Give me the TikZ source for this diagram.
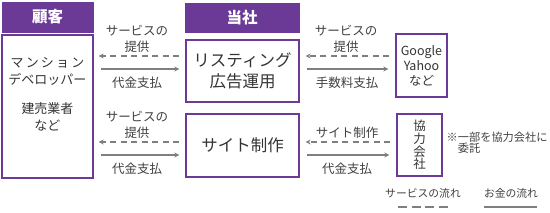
\documentclass[tikz,border=0pt]{standalone}
\usepackage{fontspec}
\setmainfont{Noto Sans CJK JP}
\usetikzlibrary{arrows.meta}
\definecolor{pur}{HTML}{6A3A96}
\definecolor{ln}{HTML}{7F7F7F}
\definecolor{tx}{HTML}{333333}
\definecolor{tl}{HTML}{404040}
\tikzset{
  hdr/.style={draw=pur,fill=pur,text=white,font=\fontsize{15.5}{15.5}\selectfont\bfseries,inner sep=0pt,line width=1pt},
  box/.style={draw=pur,line width=1.3pt,text=tx,inner sep=0pt,align=center},
  lbl/.style={text=tl,inner sep=0pt,align=center,font=\fontsize{12.5}{16}\selectfont},
  svc/.style={draw=ln,line width=1.5pt,dash pattern=on 6pt off 4.5pt,-{Stealth[length=5pt,width=5pt]}},
  pay/.style={draw=ln,line width=1.5pt,-{Stealth[length=5pt,width=5pt]}},
}
\begin{document}
\begin{tikzpicture}[x=1pt,y=-1pt]
\useasboundingbox (0,0) rectangle (550,212);
% headers
\node[hdr,minimum width=91pt,minimum height=30pt] (h1) at (47.5,17) {顧客};
\node[hdr,minimum width=114pt,minimum height=29pt] (h2) at (242,17.5) {当社};
% boxes
\node[box,minimum width=91pt,minimum height=143pt] (c) at (47.5,106.5) {};
\node[text=tx,inner sep=0pt,align=center,font=\fontsize{13}{17}\selectfont] (ct1) at (47.5,71.5) {マ\,ン\,シ\,ョ\,ン\\デベロッパー};
\node[text=tx,inner sep=0pt,align=center,font=\fontsize{13}{16.5}\selectfont] (ct2) at (47.5,117) {建売業者\\など};
\node[box,minimum width=113pt,minimum height=62pt,font=\fontsize{16.5}{20.5}\selectfont] (l) at (242.5,71) {リスティング\\広告運用};
\node[box,minimum width=113pt,minimum height=63pt,font=\fontsize{16.5}{20}\selectfont] (s) at (242.5,145.5) {サイト制作};
\node[box,minimum width=51pt,minimum height=63pt,font=\fontsize{12.5}{15}\selectfont] (g) at (421.5,65.5) {Google\\Yahoo\\など};
\node[box,minimum width=45pt,minimum height=62pt,font=\fontsize{12.5}{12.7}\selectfont] (k) at (419.5,145) {協\\力\\会\\社};
% note
\node[text=tl,inner sep=0pt,align=left,anchor=west,font=\fontsize{11.2}{11}\selectfont] (n) at (446.5,143) {※一部を協力会社に\\\phantom{※}委託};
% left arrows row 1
\draw[svc,shorten <=6pt,shorten >=5pt] (l.west |- 0,56) -- (c.east |- 0,56);
\draw[pay,shorten <=7pt,shorten >=6pt] (c.east |- 0,69) -- (l.west |- 0,69);
\node[lbl] (a1) at (137,39) {サービスの\\提供};
\node[lbl] (a2) at (137,82.5) {代金支払};
% left arrows row 2
\draw[svc,shorten <=6pt,shorten >=5pt] (s.west |- 0,142) -- (c.east |- 0,142);
\draw[pay,shorten <=7pt,shorten >=6pt] (c.east |- 0,155) -- (s.west |- 0,155);
\node[lbl] (a3) at (137,125) {サービスの\\提供};
\node[lbl] (a4) at (137,168.5) {代金支払};
% right arrows row 1
\draw[svc,shorten <=6pt,shorten >=6pt] (g.west |- 0,56) -- (l.east |- 0,56);
\draw[pay,shorten <=7pt,shorten >=7pt] (l.east |- 0,69) -- (g.west |- 0,69);
\node[lbl] (b1) at (346,39) {サービスの\\提供};
\node[lbl] (b2) at (347,82.5) {手数料支払};
% right arrows row 2
\draw[svc,shorten <=6pt,shorten >=6pt] (k.west |- 0,142) -- (s.east |- 0,142);
\draw[pay,shorten <=7pt,shorten >=7pt] (s.east |- 0,155) -- (k.west |- 0,155);
\node[lbl] (b3) at (347,132.5) {サイト制作};
\node[lbl] (b4) at (347,168.5) {代金支払};
% legend
\node[text=tl,inner sep=0pt,font=\fontsize{10.8}{10.8}\selectfont] (lg1) at (423,193) {サービスの流れ};
\node[text=tl,inner sep=0pt,font=\fontsize{10.8}{10.8}\selectfont] (lg2) at (511,193) {お金の流れ};
\coordinate (d1) at (398,207);
\coordinate (d2) at (448,207);
\coordinate (p1) at (484,206.5);
\coordinate (p2) at (537,206.5);
\draw[ln,line width=2pt,dash pattern=on 9pt off 4.7pt] (d1) -- (d2);
\draw[ln,line width=2pt] (p1) -- (p2);
\end{tikzpicture}
\end{document}
